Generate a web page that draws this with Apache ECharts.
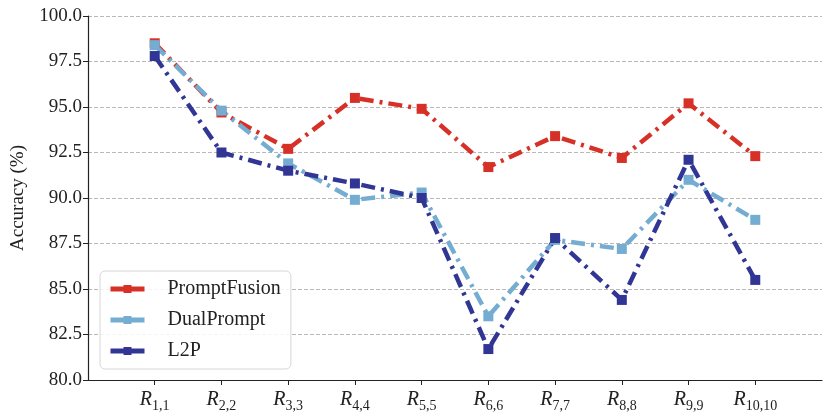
<!DOCTYPE html>
<html>
<head>
<meta charset="utf-8">
<script src="https://cdn.jsdelivr.net/npm/echarts@6/dist/echarts.min.js"></script>
<style>
  html, body { margin: 0; padding: 0; background: #fff; }
  #main { width: 830px; height: 419px; }
</style>
</head>
<body>
<div id="main"></div>
<script>
// subscripts for each round R_{i,i}
const rounds = ['1,1', '2,2', '3,3', '4,4', '5,5', '6,6', '7,7', '8,8', '9,9', '10,10'];
const promptFusion = [98.5, 94.7, 92.7, 95.5, 94.9, 91.7, 93.4, 92.2, 95.2, 92.3];
const dualPrompt = [98.4, 94.8, 91.9, 89.9, 90.3, 83.5, 87.7, 87.2, 91.0, 88.8];
const l2p = [97.8, 92.5, 91.5, 90.8, 90.0, 81.7, 87.8, 84.4, 92.1, 85.5];

const font = 'Liberation Serif';
const dashDot = [14, 6, 3, 6];

// pad an empty category on each side, like matplotlib's margins
const cats = [''].concat(rounds, ['']);

function mk(name, vals, color) {
    return {
        name: name,
        type: 'line',
        data: vals.map((v, i) => [i + 1, v]),
        symbol: 'rect',
        symbolSize: 10,
        color: color,
        itemStyle: { color: color },
        lineStyle: { width: 4.5, type: dashDot, color: color },
        emphasis: { disabled: true },
        animation: false
    };
}

var chart = echarts.init(document.getElementById('main'));
chart.setOption({
    animation: false,
    grid: { left: 88, right: 8, top: 16, bottom: 39, outerBoundsMode: 'none', containLabel: false },
    legend: {
        orient: 'vertical',
        left: 100,
        top: 271,
        data: ['PromptFusion', 'DualPrompt', 'L2P'],
        backgroundColor: 'rgba(255,255,255,0.85)',
        borderColor: '#d6d6d6',
        borderWidth: 1,
        borderRadius: 5,
        padding: [8, 10, 8, 8],
        itemGap: 11,
        itemWidth: 34,
        itemHeight: 10,
        lineStyle: { type: 'solid', width: 5 },
        textStyle: { fontFamily: font, fontSize: 20, color: '#222', padding: [0, 0, 0, 18] }
    },
    xAxis: {
        type: 'category',
        data: cats,
        boundaryGap: false,
        axisLine: { lineStyle: { color: '#222', width: 1.2 } },
        axisTick: {
            length: 5,
            lineStyle: { color: '#222' },
            interval: (i) => i > 0 && i < cats.length - 1
        },
        axisLabel: {
            interval: 0,
            margin: 7,
            formatter: (v) => v ? '{r|R}{s|' + v + '}' : '',
            rich: {
                r: { fontFamily: font, fontStyle: 'italic', fontSize: 20, color: '#222' },
                s: { fontFamily: font, fontSize: 14, color: '#222', padding: [12, 0, 0, 0] }
            }
        },
        splitLine: { show: false }
    },
    yAxis: {
        type: 'value',
        min: 80,
        max: 100,
        interval: 2.5,
        name: 'Accuracy (%)',
        nameLocation: 'middle',
        nameGap: 60,
        nameTextStyle: { fontFamily: font, fontSize: 19, color: '#222' },
        axisLine: { show: true, lineStyle: { color: '#222', width: 1.2 } },
        axisTick: { show: true, length: 5, lineStyle: { color: '#222' } },
        axisLabel: {
            fontFamily: font,
            fontSize: 19,
            color: '#222',
            margin: 6,
            formatter: (v) => v.toFixed(1)
        },
        splitLine: { lineStyle: { color: '#b8b8b8', type: [4, 2], width: 1 } }
    },
    series: [
        mk('PromptFusion', promptFusion, '#d73027'),
        mk('DualPrompt', dualPrompt, '#74add1'),
        mk('L2P', l2p, '#313695')
    ]
});
</script>
</body>
</html>
